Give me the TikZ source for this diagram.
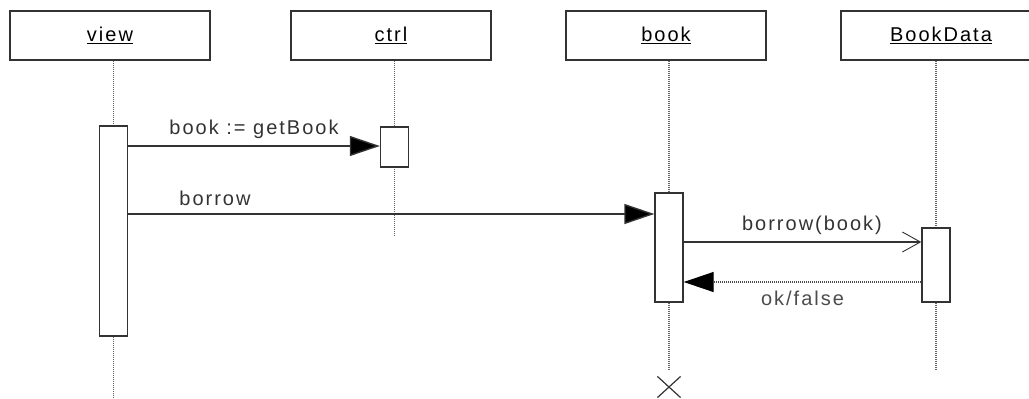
\documentclass[tikz,border=0pt]{standalone}
\usepackage{fontspec}
\setmainfont{Liberation Sans}[LetterSpace=10]
\usetikzlibrary{arrows.meta,shapes.misc}
\tikzset{
	head/.style={draw=black!80,line width=1.4pt,minimum width=200pt,minimum height=49pt,inner sep=0pt},
	bar/.style={draw=black!80,fill=white,line width=1.4pt,minimum width=28pt,inner sep=0pt},
	life/.style={black!60,line width=1.1pt,dash pattern=on 1pt off 1pt},
	call/.style={black!80,line width=1.4pt,-{Triangle[length=30pt,width=20pt,fill=black]}},
	send/.style={black!80,line width=1.4pt,-{Straight Barb[length=18pt,width=20pt,line width=0.9pt]}},
	reply/.style={black!70,line width=1.3pt,dash pattern=on 1pt off 1pt,-{Triangle[length=30pt,width=20pt,fill=black,color=black]}},
	lbl/.style={font=\fontsize{20}{24}\selectfont,inner sep=2pt}
}
\begin{document}
\begin{tikzpicture}[x=1pt,y=-1pt,line cap=butt,every node/.style={lbl}]
	\useasboundingbox (0,0) rectangle (1029,399);
	\clip (0,0) rectangle (1029,399);
	% heads
	\node[head] (view) at (110,35.5) {\underline{view}};
	\node[head] (ctrl) at (391,35.5) {\underline{ctrl}};
	\node[head] (book) at (666,35.5) {\underline{book}};
	\node[head] (bookdata) at (941,35.5) {\underline{BookData}};
	% lifelines
	\coordinate (vend) at (113.5,399);
	\coordinate (cend) at (394.5,235);
	\coordinate (bend) at (669,370);
	\coordinate (dend) at (936,370);
	\draw[life] (view.south -| vend) -- (vend);
	\draw[life] (ctrl.south -| cend) -- (cend);
	\draw[life] (book.south -| bend) -- (bend);
	\draw[life] (bookdata.south -| dend) -- (dend);
	% activations
	\node[bar,minimum height=210pt] (vbar) at (113.5,231) {};
	\node[bar,minimum height=40pt] (cbar) at (394.5,147) {};
	\node[bar,minimum height=109pt] (bbar) at (669,247.5) {};
	\node[bar,minimum height=74pt] (dbar) at (936,265) {};
	\node[draw=black!80,line width=1.2pt,cross out,minimum width=22pt,minimum height=20pt,inner sep=0pt] (kill) at (669,387) {};
	% messages
	\draw[call] (vbar.east |- 0,146) -- node[above=5pt] {book := getBook} (cbar.west |- 0,146);
	\draw[call] (vbar.east |- 0,214) -- node[above=6pt,pos=0.165] {borrow} (bbar.west |- 0,214);
	\draw[send] (bbar.east |- 0,242) -- node[above=5pt,pos=0.54] {borrow(book)} (dbar.west |- 0,242);
	\draw[reply] (dbar.west |- 0,282) -- node[below=6pt] {ok/false} (bbar.east |- 0,282);
\end{tikzpicture}
\end{document}
